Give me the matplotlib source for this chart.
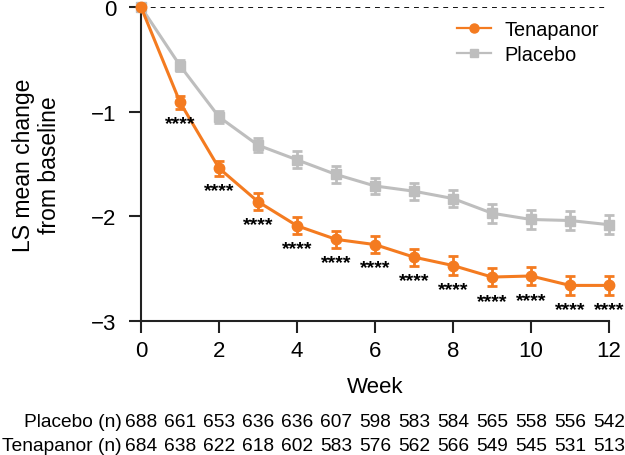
import numpy as np
import matplotlib.pyplot as plt
from matplotlib.lines import Line2D

plt.rcParams['font.family'] = ['Liberation Sans', 'DejaVu Sans']

weeks = [0, 1, 2, 3, 4, 5, 6, 7, 8, 9, 10, 11, 12]
tena = [0, -0.91, -1.54, -1.86, -2.09, -2.22, -2.27, -2.39, -2.47, -2.58, -2.57, -2.66, -2.66]
tena_se = [0, 0.06, 0.07, 0.08, 0.08, 0.08, 0.08, 0.08, 0.09, 0.09, 0.09, 0.09, 0.09]
plac = [0, -0.56, -1.05, -1.32, -1.46, -1.60, -1.71, -1.76, -1.83, -1.97, -2.03, -2.04, -2.08]
plac_se = [0, 0.05, 0.06, 0.07, 0.08, 0.08, 0.08, 0.08, 0.08, 0.09, 0.09, 0.09, 0.09]
n_plac = [688, 661, 653, 636, 636, 607, 598, 583, 584, 565, 558, 556, 542]
n_tena = [684, 638, 622, 618, 602, 583, 576, 562, 566, 549, 545, 531, 513]

orange = '#F47B20'
grey = '#BEBEBE'

fig = plt.figure(figsize=(6.25, 4.56), dpi=100)
ax = fig.add_axes([141/625, 1 - 322/456, 468/625, 314/456])

ax.axhline(0, color='black', ls=(0, (2.7, 2.7)), lw=1.3, zorder=1)

ax.errorbar(weeks, plac, yerr=plac_se, color=grey, marker='s', ms=7.5, lw=2.2,
            capsize=3.3, capthick=2, elinewidth=2, clip_on=False, zorder=3)
ax.errorbar(weeks, tena, yerr=tena_se, color=orange, marker='o', ms=7.5, lw=2.2,
            capsize=3.3, capthick=2, elinewidth=2, clip_on=False, zorder=4)

# significance stars under each tenapanor point
for w, v, e in zip(weeks[1:], tena[1:], tena_se[1:]):
    ax.annotate('****', (w, v - e), xytext=(0, -4.5), textcoords='offset points',
                ha='center', va='top', fontsize=14, fontweight='bold', zorder=6)

ax.set_xlim(0, 12)
ax.set_ylim(-3, 0)
ax.set_xticks(range(0, 13, 2))
ax.set_yticks([0, -1, -2, -3])
ax.set_yticklabels(['0', '\u22121', '\u22122', '\u22123'])
for s in ['top', 'right']:
    ax.spines[s].set_visible(False)
for s in ['left', 'bottom']:
    ax.spines[s].set_linewidth(1.5)
    ax.spines[s].set_color('#222222')
ax.tick_params(labelsize=16, width=1.5, length=8.5, color='#222222')
ax.tick_params(axis='x', pad=5)
ax.tick_params(axis='y', pad=9)
ax.set_xlabel('Week', fontsize=16)
ax.xaxis.set_label_coords(0.5, -0.175)
ax.set_ylabel('LS mean change\nfrom baseline', fontsize=16.5, linespacing=1.15)
ax.yaxis.set_label_coords(-0.172, 0.5)

handles = [Line2D([], [], color=orange, marker='o', ms=6.5, lw=1.6),
           Line2D([], [], color=grey, marker='s', ms=6, lw=1.6)]
ax.legend(handles, ['Tenapanor', 'Placebo'], loc='upper left',
          bbox_to_anchor=(457/625, 1 - 21/456),
          bbox_transform=fig.transFigure, frameon=False, fontsize=14.3,
          handlelength=1.7, handletextpad=0.7, labelspacing=0.32,
          borderpad=0, borderaxespad=0)

# n at risk table
tr = ax.get_xaxis_transform()
for w, a, b in zip(weeks, n_plac, n_tena):
    ax.text(w, -0.334, str(a), transform=tr, ha='center', va='baseline', fontsize=13.8)
    ax.text(w, -0.411, str(b), transform=tr, ha='center', va='baseline', fontsize=13.8)
ax.text(-0.5, -0.334, 'Placebo (n)', transform=tr, ha='right', va='baseline', fontsize=13.8)
ax.text(-0.5, -0.411, 'Tenapanor (n)', transform=tr, ha='right', va='baseline', fontsize=13.8)

fig.savefig('out.png', dpi=100)
